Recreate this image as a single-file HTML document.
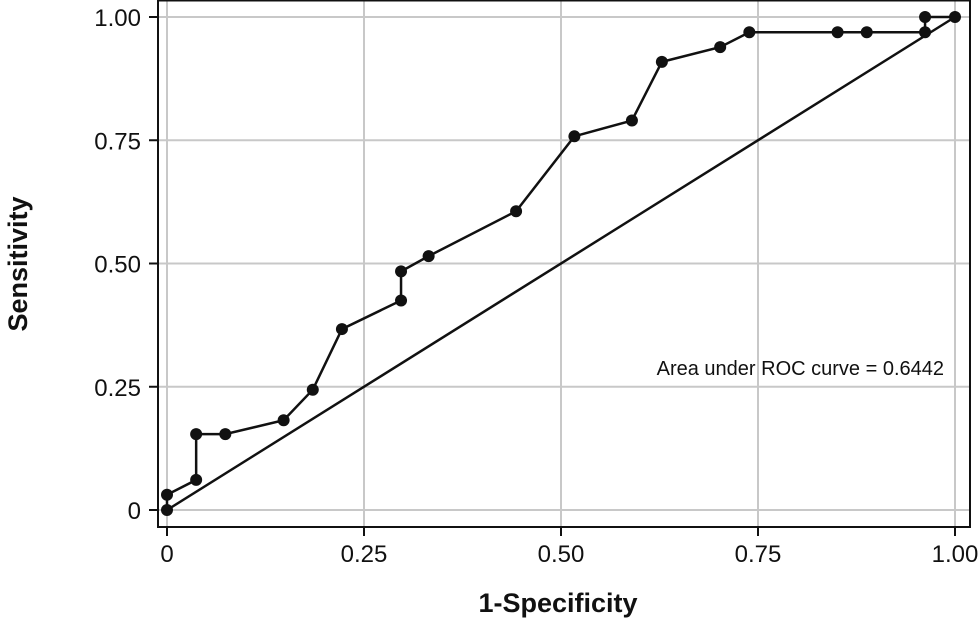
<!DOCTYPE html>
<html><head><meta charset="utf-8"><style>
body{margin:0;background:#fff}
svg text{font-family:"Liberation Sans Narrow","Liberation Sans",sans-serif;fill:#111}
</style></head><body>
<svg id="chart" width="980" height="622" viewBox="0 0 980 622" xmlns="http://www.w3.org/2000/svg"></svg>
<script>
const fprValues=[0,0,0.037,0.037,0.074,0.148,0.185,0.222,0.297,0.297,0.332,0.443,0.517,0.590,0.628,0.702,0.739,0.851,0.888,0.962,0.962,1];
const tprValues=[0,0.031,0.061,0.154,0.154,0.182,0.244,0.367,0.425,0.484,0.515,0.606,0.758,0.790,0.909,0.939,0.969,0.969,0.969,0.969,1,1];
const tickValues=[0,0.25,0.5,0.75,1];
const xTickLabels=["0","0.25","0.50","0.75","1.00"];
const yTickLabels=["0","0.25","0.50","0.75","1.00"];
const aucText="Area under ROC curve = 0.6442";
const NS="http://www.w3.org/2000/svg";
const svg=document.getElementById('chart');
const X0=167,X1=955,Y0=510,Y1=17;
const xs=v=>X0+v*(X1-X0), ys=v=>Y0-v*(Y0-Y1);
function mk(t,a,p){const e=document.createElementNS(NS,t);for(const k in a)e.setAttribute(k,a[k]);(p||svg).appendChild(e);return e;}
const grid=mk('g',{});


tickValues.forEach(v=>{
 const gx=mk('line',{x1:xs(v),x2:xs(v),y1:0,y2:527,stroke:'#c8c8c8','stroke-width':2},grid);
 
 
 const gy=mk('line',{x1:158,x2:970,y1:ys(v),y2:ys(v),stroke:'#c8c8c8','stroke-width':2},grid);
 
 
});
const frame=mk('rect',{x:158,y:0.5,width:812,height:526.5,fill:'none',stroke:'#111','stroke-width':2});


tickValues.forEach((v,i)=>{
 const tx=mk('line',{x1:xs(v),x2:xs(v),y1:527,y2:536,stroke:'#111','stroke-width':2});
 
 
 const lx=mk('text',{x:xs(v),y:562,'font-size':24,'text-anchor':'middle'});
 lx.textContent=xTickLabels[i];
 
 
 const ty=mk('line',{x1:149,x2:158,y1:ys(v),y2:ys(v),stroke:'#111','stroke-width':2});
 
 
 const ly=mk('text',{x:141,y:ys(v)+9,'font-size':24,'text-anchor':'end'});
 ly.textContent=yTickLabels[i];
 
 
});
const diag=mk('line',{x1:xs(0),y1:ys(0),x2:xs(1),y2:ys(1),stroke:'#111','stroke-width':2.5});


const pts=fprValues.map((f,i)=>xs(f)+','+ys(tprValues[i])).join(' ');
const line=mk('polyline',{points:pts,fill:'none',stroke:'#111','stroke-width':2.5});


fprValues.forEach((f,i)=>{
 const c=mk('circle',{cx:xs(f),cy:ys(tprValues[i]),r:6,fill:'#111'});
 
 
});
const auc=mk('text',{x:944,y:375,'font-size':20,'text-anchor':'end'});
auc.textContent=aucText;


const xt=mk('text',{x:558,y:612,'font-size':27,'font-weight':'bold','text-anchor':'middle'});
xt.textContent='1-Specificity';


const yt=mk('text',{x:0,y:0,'font-size':27,'font-weight':'bold','text-anchor':'middle',transform:'translate(27,264) rotate(-90)'});
yt.textContent='Sensitivity';


</script>
</body></html>
